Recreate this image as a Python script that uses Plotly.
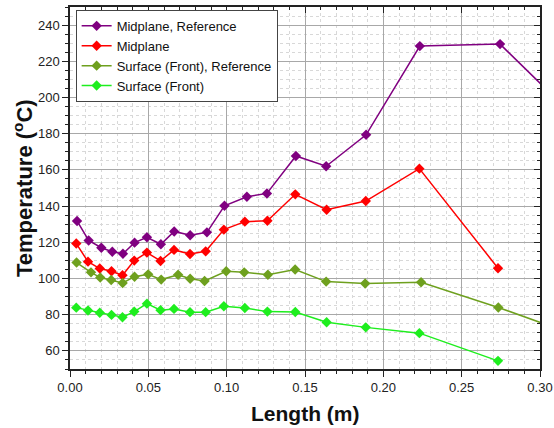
import plotly.graph_objects as go

x_mid_ref = [0.0045, 0.0119, 0.0200, 0.0270, 0.0338, 0.0412, 0.0491, 0.0580, 0.0665, 0.0767, 0.0874, 0.0986, 0.1129, 0.1257, 0.1442, 0.1635, 0.1890, 0.2233, 0.2745, 0.3200]
y_mid_ref = [131.8, 121.0, 117.0, 114.8, 113.7, 119.8, 122.8, 118.9, 126.0, 123.9, 125.5, 140.2, 145.2, 147.0, 167.7, 162.0, 179.4, 228.4, 229.5, 191.0]

x_mid = [0.0040, 0.0115, 0.0190, 0.0265, 0.0335, 0.0410, 0.0491, 0.0578, 0.0664, 0.0766, 0.0866, 0.0982, 0.1116, 0.1260, 0.1438, 0.1638, 0.1888, 0.2230, 0.2732]
y_mid = [119.3, 109.3, 105.5, 104.0, 101.8, 109.9, 114.3, 109.7, 115.8, 113.5, 115.0, 127.0, 131.4, 131.9, 146.5, 138.0, 142.8, 160.7, 105.7]

x_surf_ref = [0.0042, 0.0134, 0.0193, 0.0263, 0.0336, 0.0412, 0.0499, 0.0582, 0.0690, 0.0767, 0.0859, 0.0997, 0.1112, 0.1263, 0.1437, 0.1635, 0.1884, 0.2241, 0.2734, 0.3200]
y_surf_ref = [108.8, 103.4, 100.5, 99.2, 97.5, 101.0, 102.3, 99.4, 102.1, 99.9, 98.6, 104.0, 103.4, 102.1, 105.0, 98.3, 97.2, 97.9, 84.0, 69.6]

x_surf = [0.0040, 0.0115, 0.0190, 0.0265, 0.0335, 0.0410, 0.0491, 0.0578, 0.0664, 0.0766, 0.0866, 0.0982, 0.1116, 0.1260, 0.1438, 0.1638, 0.1888, 0.2230, 0.2732]
y_surf = [83.9, 82.3, 81.1, 79.9, 78.6, 81.7, 86.1, 82.5, 83.2, 81.4, 81.4, 84.7, 83.7, 81.7, 81.5, 75.8, 73.0, 69.8, 54.5]

series = [
    ("Midplane, Reference", x_mid_ref, y_mid_ref, "#800080"),
    ("Midplane", x_mid, y_mid, "#FF0000"),
    ("Surface (Front), Reference", x_surf_ref, y_surf_ref, "#6EA01E"),
    ("Surface (Front)", x_surf, y_surf, "#1EEE1E"),
]

x_title = "Length (m)"
y_title = "Temperature (<sup>o</sup>C)"

fig = go.Figure()
for name, xs, ys, col in series:
    fig.add_trace(go.Scatter(
        x=xs, y=ys, name=name, mode="lines+markers",
        line=dict(color=col, width=1.5),
        marker=dict(symbol="diamond", size=8, color=col),
    ))

# invisible trace so the mirrored inside-tick axes are drawn
fig.add_trace(go.Scatter(x=[0.1], y=[100], xaxis="x2", yaxis="y2", mode="markers",
                         marker=dict(opacity=0), showlegend=False, hoverinfo="skip"))

font = "Arial, 'Liberation Sans', sans-serif"
tick_col = "#222222"
fig.update_layout(
    width=554, height=428,
    margin=dict(l=70, r=14, t=7, b=59, autoexpand=False),
    paper_bgcolor="white", plot_bgcolor="white",
    font=dict(family=font, size=13, color="#222222"),
    showlegend=True,
    legend=dict(
        x=0.012, y=0.992, xanchor="left", yanchor="top",
        bgcolor="white", bordercolor="#444444", borderwidth=1,
        font=dict(size=13, color="#111111"),
        tracegroupgap=0, itemwidth=30,
    ),
    xaxis=dict(
        range=[0, 0.30], dtick=0.05, tickformat=".2f", automargin=False,
        showline=True, linecolor=tick_col, linewidth=1.5,
        ticks="outside", ticklen=6, tickwidth=1, tickcolor=tick_col,
        showgrid=True, gridcolor="#A8A8A8", gridwidth=1,
        minor=dict(dtick=0.01, ticks="outside", ticklen=3, tickcolor=tick_col,
                   showgrid=True, gridcolor="#D8D8D8", griddash="dot"),
        zeroline=False,
    ),
    yaxis=dict(
        range=[50, 250], dtick=20, automargin=False,
        showline=True, linecolor=tick_col, linewidth=1.5,
        ticks="outside", ticklen=6, tickwidth=1, tickcolor=tick_col,
        showgrid=True, gridcolor="#A8A8A8", gridwidth=1,
        minor=dict(dtick=5, ticks="outside", ticklen=3, tickcolor=tick_col,
                   showgrid=True, gridcolor="#D8D8D8", griddash="dot"),
        zeroline=False,
    ),
    xaxis2=dict(
        overlaying="x", side="top", matches="x", range=[0, 0.30], dtick=0.05, automargin=False,
        showline=True, linecolor=tick_col, linewidth=1.5,
        ticks="inside", ticklen=6, tickcolor=tick_col, showticklabels=False,
        minor=dict(dtick=0.01, ticks="inside", ticklen=3, tickcolor=tick_col, showgrid=False),
        showgrid=False, zeroline=False,
    ),
    yaxis2=dict(
        overlaying="y", side="right", matches="y", range=[50, 250], dtick=20, automargin=False,
        showline=True, linecolor=tick_col, linewidth=1.5,
        ticks="inside", ticklen=6, tickcolor=tick_col, showticklabels=False,
        minor=dict(dtick=5, ticks="inside", ticklen=3, tickcolor=tick_col, showgrid=False),
        showgrid=False, zeroline=False,
    ),
    annotations=[
        dict(text="<b>" + x_title + "</b>", xref="paper", yref="paper", x=0.5, y=0,
             xanchor="center", yanchor="middle", yshift=-44, showarrow=False,
             font=dict(size=21, color="#111111", family=font)),
        dict(text="<b>" + y_title + "</b>", xref="paper", yref="paper", x=0, y=0.5,
             xanchor="center", yanchor="middle", xshift=-47, textangle=-90, showarrow=False,
             font=dict(size=22, color="#111111", family=font)),
    ],
)

fig.write_html("out.html", config={"displayModeBar": False},
               post_script="document.body.style.margin='0';")
